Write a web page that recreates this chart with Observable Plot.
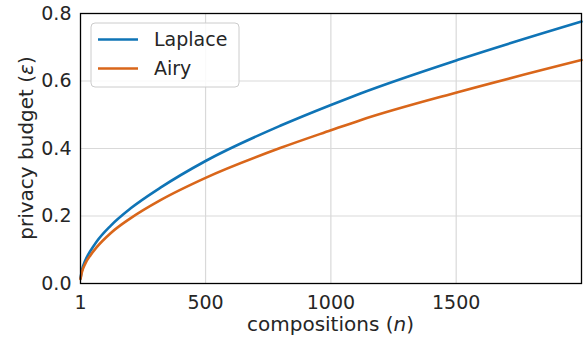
<!DOCTYPE html>
<html>
<head>
<meta charset="utf-8">
<script src="https://cdn.jsdelivr.net/npm/d3@7"></script>
<script src="https://cdn.jsdelivr.net/npm/@observablehq/plot@0.6"></script>
<style>
  html, body { margin: 0; padding: 0; background: #fff; }
  #chart { width: 585px; height: 341px; }
  svg { font-family: "DejaVu Sans", sans-serif; }
</style>
</head>
<body>
<div id="chart"></div>
<script>
// Data
const compositions = [1, 6, 20, 41, 65, 121, 200, 320, 500, 800, 1000, 1118, 1517, 2000];
const laplace = [0.015, 0.037, 0.068, 0.097, 0.124, 0.171, 0.222, 0.284, 0.363, 0.468, 0.529, 0.563, 0.665, 0.776];
const airy    = [0.013, 0.032, 0.059, 0.084, 0.107, 0.149, 0.193, 0.247, 0.313, 0.402, 0.454, 0.484, 0.569, 0.662];
const seriesNames = ["Laplace", "Airy"];
const seriesColors = ["#0f74b6", "#d9661a"];
const xTicks = [1, 500, 1000, 1500];
const yTicks = [0, 0.2, 0.4, 0.6, 0.8];
const xLabel = ["compositions (", "n", ")"];
const yLabel = ["privacy budget (", "\u03b5", ")"];

const rows = [];
compositions.forEach((n, i) => {
  rows.push({n, eps: laplace[i], mech: seriesNames[0]});
  rows.push({n, eps: airy[i], mech: seriesNames[1]});
});

const textColor = "#262626";
const chart = Plot.plot({
  width: 585,
  height: 341,
  marginLeft: 80,
  marginRight: 4,
  marginTop: 13,
  marginBottom: 58,
  style: {fontFamily: "DejaVu Sans, sans-serif", color: textColor, background: "#fff"},
  x: {domain: [1, 2000], label: null},
  y: {domain: [0, 0.8], label: null},
  color: {domain: seriesNames, range: seriesColors},
  marks: [
    Plot.gridX(xTicks.slice(1), {stroke: "#d9d9d9", strokeOpacity: 1, strokeWidth: 1.2}),
    Plot.gridY(yTicks.slice(1, -1), {stroke: "#d9d9d9", strokeOpacity: 1, strokeWidth: 1.2}),
    Plot.line(rows, {x: "n", y: "eps", stroke: "mech", z: "mech", strokeWidth: 2.6, curve: "monotone-x"}),
    Plot.frame({stroke: "#000", strokeWidth: 1.3}),
    Plot.axisX({ticks: xTicks, tickSize: 0, tickPadding: 12, fontSize: 19, label: null, tickFormat: d => String(d)}),
    Plot.axisY({ticks: yTicks, tickSize: 0, tickPadding: 9, fontSize: 19, label: null, tickFormat: d3.format(".1f")})
  ]
});
document.getElementById("chart").appendChild(chart);

const svg = d3.select(chart);
const xr = chart.scale("x").range;
const yr = chart.scale("y").range;

// x axis label
const xl = svg.append("text")
  .attr("x", (xr[0] + xr[1]) / 2).attr("y", 331)
  .attr("text-anchor", "middle").attr("fill", textColor).attr("font-size", 20);
xl.append("tspan").text(xLabel[0]);
xl.append("tspan").attr("font-style", "italic").text(xLabel[1]);
xl.append("tspan").text(xLabel[2]);

// y axis label
const ycy = (yr[0] + yr[1]) / 2;
const yl = svg.append("text")
  .attr("transform", `translate(33,${ycy}) rotate(-90)`)
  .attr("text-anchor", "middle").attr("fill", textColor).attr("font-size", 20);
yl.append("tspan").text(yLabel[0]);
yl.append("tspan").attr("font-style", "italic").text(yLabel[1]);
yl.append("tspan").text(yLabel[2]);

// legend
const lg = svg.append("g");
lg.append("rect").attr("x", 91).attr("y", 23).attr("width", 148).attr("height", 64)
  .attr("rx", 4).attr("fill", "rgba(255,255,255,0.85)").attr("stroke", "#cccccc").attr("stroke-width", 1);
seriesNames.forEach((name, i) => {
  const cy = 39.5 + i * 29;
  lg.append("line").attr("x1", 98).attr("x2", 138).attr("y1", cy).attr("y2", cy)
    .attr("stroke", seriesColors[i]).attr("stroke-width", 2.6);
  lg.append("text").attr("x", 154).attr("y", cy + 6.5).attr("fill", textColor)
    .attr("text-anchor", "start").attr("font-size", 19).text(name);
});
</script>
</body>
</html>
